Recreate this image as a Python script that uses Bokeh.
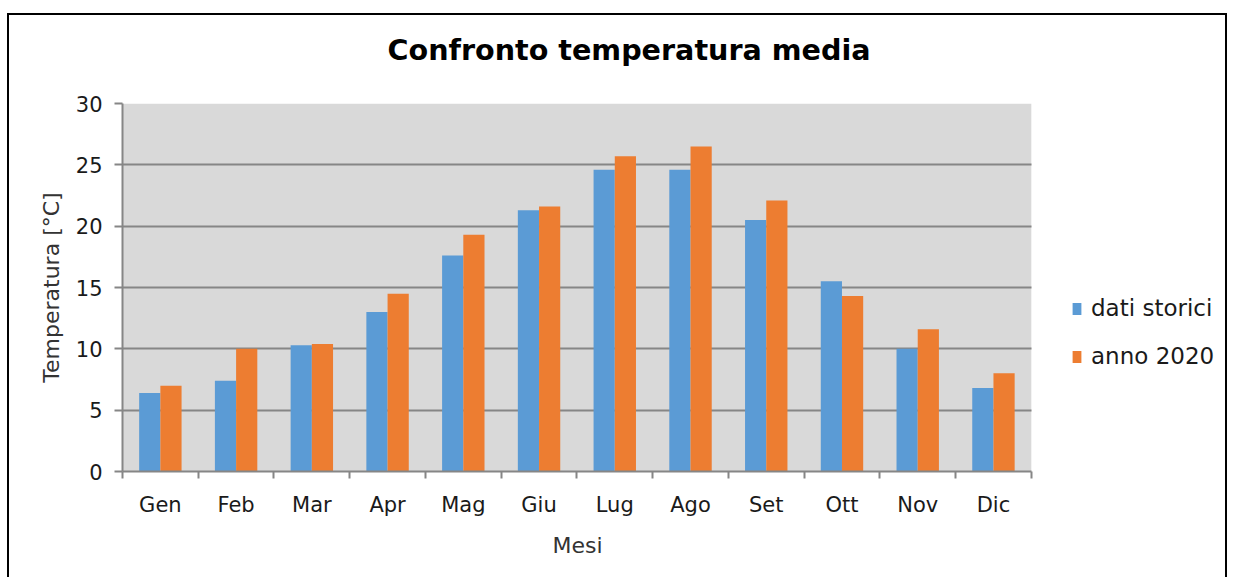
import numpy as np
from bokeh.plotting import figure
from bokeh.models import (ColumnDataSource, Range1d, FixedTicker, Legend, LegendItem,
                          Title, BoxAnnotation)
from bokeh.transform import dodge
from bokeh.embed import file_html
from bokeh.resources import INLINE

months = ["Gen", "Feb", "Mar", "Apr", "Mag", "Giu", "Lug", "Ago", "Set", "Ott", "Nov", "Dic"]
dati_storici = [6.4, 7.4, 10.3, 13.0, 17.6, 21.3, 24.6, 24.6, 20.5, 15.5, 10.0, 6.8]
anno_2020 = [7.0, 10.0, 10.4, 14.5, 19.3, 21.6, 25.7, 26.5, 22.1, 14.3, 11.6, 8.0]
y_ticks = [0, 5, 10, 15, 20, 25, 30]

FONT = "DejaVu Sans"
BLUE = "#5B9BD5"
ORANGE = "#ED7D31"
GRID = "#868686"
TXT = "#1a1a1a"

n = len(months)
# plot area occupies 908 of the 1106 px frame; the rest holds the legend
x_end = n * 1106 / 908

pos = np.arange(n) + 0.5
src = ColumnDataSource(dict(x=pos, storici=dati_storici, a2020=anno_2020))

p = figure(width=1220, height=564, output_backend="svg", toolbar_location=None,
           x_range=Range1d(0, x_end), y_range=Range1d(0, 30),
           min_border_left=113, min_border_right=0, min_border_top=88, min_border_bottom=108)
p.styles = {"border-left": "2px solid black", "border-top": "2px solid black",
            "border-right": "2px solid black", "margin-top": "13px", "margin-left": "7px"}

# spacer (nearest the frame), then the real title above it
p.add_layout(Title(text=" ", text_font_size="1px", standoff=34), "above")
p.add_layout(Title(text="Confronto temperatura media", text_font=FONT,
                   text_font_size="28.6px", text_font_style="bold", text_color="black",
                   align="left", offset=265, standoff=0), "above")

p.background_fill_color = "white"
p.border_fill_color = "white"
p.outline_line_color = None
p.add_layout(BoxAnnotation(left=0, right=n, bottom=0, top=30, fill_color="#d9d9d9",
                           fill_alpha=1, line_color=None, level="image"))

r1 = p.vbar(x=dodge("x", -0.14, range=p.x_range), top="storici", width=0.28, source=src,
            fill_color=BLUE, line_color=None)
r2 = p.vbar(x=dodge("x", 0.14, range=p.x_range), top="a2020", width=0.28, source=src,
            fill_color=ORANGE, line_color=None)

# x axis: labels at centres, ticks at boundaries
xa = p.xaxis[0]
xa.bounds = (0, n)
xa.ticker = FixedTicker(ticks=list(pos), minor_ticks=list(range(n + 1)))
xa.major_label_overrides = {float(v): m for v, m in zip(pos, months)}
xa.major_tick_out = 0
xa.major_tick_in = 0
xa.minor_tick_out = 7
xa.minor_tick_in = 0
xa.minor_tick_line_color = GRID
xa.minor_tick_line_width = 2
xa.axis_line_color = GRID
xa.axis_line_width = 2
xa.major_label_text_font = FONT
xa.major_label_text_font_size = "21px"
xa.major_label_text_color = TXT
xa.major_label_standoff = 14

# x-axis title, centred under the plot area (not under the legend area)
p.add_layout(Title(text="Mesi", text_font=FONT, text_font_size="22px",
                   text_font_style="normal", text_color="#333333",
                   align="left", offset=430, standoff=22), "below")

ya = p.yaxis[0]
ya.ticker = FixedTicker(ticks=y_ticks)
ya.minor_tick_out = 0
ya.minor_tick_in = 0
ya.major_tick_out = 8
ya.major_tick_in = 0
ya.major_tick_line_color = GRID
ya.major_tick_line_width = 2
ya.axis_line_color = GRID
ya.axis_line_width = 2
ya.major_label_text_font = FONT
ya.major_label_text_font_size = "21px"
ya.major_label_text_color = TXT
ya.major_label_standoff = 12
ya.axis_label = "Temperatura [°C]"
ya.axis_label_text_font = FONT
ya.axis_label_text_font_size = "22px"
ya.axis_label_text_font_style = "normal"
ya.axis_label_text_color = "#333333"
ya.axis_label_standoff = 9

p.xgrid.visible = False
p.ygrid.ticker = FixedTicker(ticks=y_ticks)
p.ygrid.cross_bounds = (0, n)
p.ygrid.grid_line_color = GRID
p.ygrid.grid_line_width = 2

legend = Legend(items=[LegendItem(label="dati storici", renderers=[r1]),
                       LegendItem(label="anno 2020", renderers=[r2])],
                location=(949, 100), padding=0, margin=0, border_line_color=None,
                background_fill_alpha=0, glyph_width=11, glyph_height=15,
                label_height=30, spacing=18, label_standoff=9,
                label_text_font=FONT, label_text_font_size="23px",
                label_text_color=TXT)
p.add_layout(legend)

open("out.html", "w").write(file_html(p, INLINE))
